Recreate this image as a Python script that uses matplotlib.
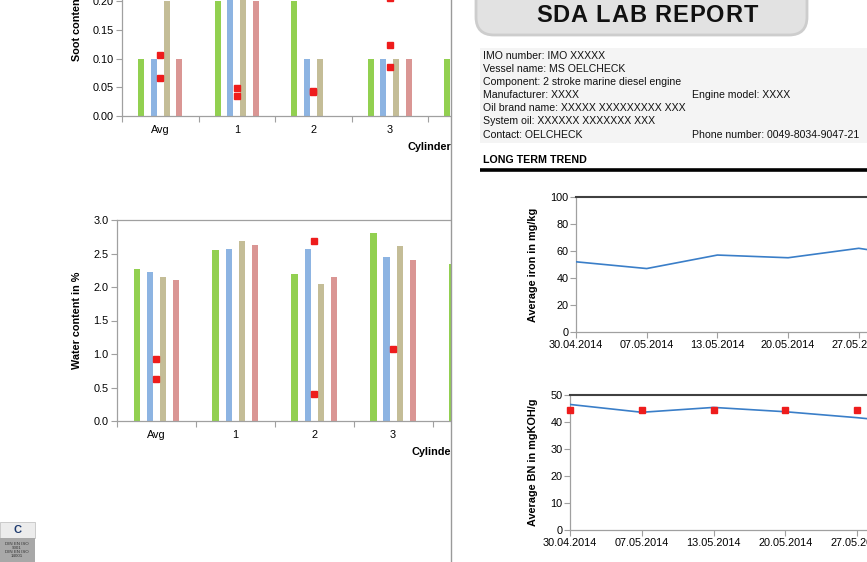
import numpy as np
import matplotlib
matplotlib.use("Agg")
import matplotlib.pyplot as plt
from matplotlib.patches import Rectangle, FancyBboxPatch
from matplotlib.font_manager import FontProperties

plt.rcParams['font.family'] = ['Liberation Sans', 'DejaVu Sans']

# ---- data ----
cylinders = ["Avg", "1", "2", "3", "4", "5", "6"]
# four samples per cylinder (green, blue, tan, pink)
soot_s1 = [0.10, 0.20, 0.20, 0.10, 0.10, np.nan, np.nan]
soot_s2 = [0.10, 0.30, 0.10, 0.10, np.nan, np.nan, np.nan]
soot_s3 = [0.20, 0.30, 0.10, 0.10, np.nan, np.nan, np.nan]
soot_s4 = [0.10, 0.20, 0.00, 0.10, np.nan, np.nan, np.nan]
soot_pts_x = [0, 0, 1, 1, 2, 2, 3, 3, 3]
soot_pts_y = [0.106, 0.066, 0.048, 0.035, 0.044, 0.042, 0.205, 0.124, 0.086]

water_s1 = [2.27, 2.55, 2.20, 2.80, 2.35, np.nan, np.nan]
water_s2 = [2.23, 2.56, 2.56, 2.45, np.nan, np.nan, np.nan]
water_s3 = [2.15, 2.68, 2.05, 2.61, np.nan, np.nan, np.nan]
water_s4 = [2.11, 2.62, 2.15, 2.40, np.nan, np.nan, np.nan]
water_pts_x = [0, 0, 2, 2, 3]
water_pts_y = [0.92, 0.62, 2.68, 0.41, 1.07]

dates = ["30.04.2014", "07.05.2014", "13.05.2014", "20.05.2014", "27.05.2014", "03.06.2014"]
iron_avg = [52, 47, 57, 55, 62, 54]
bn_avg = [46.5, 43.6, 45.4, 43.8, 41.6, 39.0]
bn_limit = [44.3, 44.3, 44.3, 44.3, 44.3, 44.3]

info_left = ["IMO number: IMO XXXXX", "Vessel name: MS OELCHECK",
             "Component: 2 stroke marine diesel engine", "Manufacturer: XXXX",
             "Oil brand name: XXXXX XXXXXXXXX XXX", "System oil: XXXXXX XXXXXXX XXX",
             "Contact: OELCHECK"]
info_right = ["", "", "", "Engine model: XXXX", "", "", "Phone number: 0049-8034-9047-21"]

title = "SDA LAB REPORT"
colors = ['#92d050', '#8db4e2', '#c4bd97', '#da9694']
W, H = 867, 562
FS = 7.8


def box(x0, y0, x1, y1):
    return [x0 / W, 1 - y1 / H, (x1 - x0) / W, (y1 - y0) / H]


fig = plt.figure(figsize=(W / 100, H / 100), dpi=100)


def cyl_chart(rect, series, px, py, ymax, ystep, fmt, ylabel, lab_x):
    ax = fig.add_axes(rect)
    n = len(cylinders)
    x = np.arange(n)
    offs = [-0.25, -0.083, 0.083, 0.25]
    for s, o, c in zip(series, offs, colors):
        ax.bar(x + o, s, width=0.08, color=c, zorder=2)
    ax.plot(px, py, 's', color='#ee1c1c', ms=4.2, zorder=3, clip_on=False)
    ax.set_xlim(-0.5, n - 0.5)
    ax.set_ylim(0, ymax)
    ax.set_yticks(np.arange(0, ymax + 1e-9, ystep))
    ax.set_yticklabels([fmt % v for v in np.arange(0, ymax + 1e-9, ystep)])
    ax.set_xticks(np.arange(-0.5, n), labels=[])
    ax.set_xticks(x, labels=cylinders, minor=True)
    ax.tick_params(axis='x', which='major', length=4, color='#a0a0a0', direction='out')
    ax.tick_params(axis='x', which='minor', length=0, pad=6.5, labelsize=FS)
    ax.tick_params(axis='y', length=4, color='#a0a0a0', labelsize=FS, pad=2)
    for sp in ax.spines.values():
        sp.set_color('#a0a0a0')
        sp.set_linewidth(0.9)
    ax.set_ylabel(ylabel, fontsize=FS, fontweight='bold')
    ax.yaxis.set_label_coords(lab_x, 0.5)
    return ax


w1 = 7 * 76.5
cyl_chart(box(122, -85, 122 + w1, 116), [soot_s1, soot_s2, soot_s3, soot_s4],
          soot_pts_x, soot_pts_y, 0.35, 0.05, "%.2f", "Soot content in %", (81.5 - 122) / w1)
fig.text(408 / W, 1 - 147 / H, "Cylinder", fontsize=FS, fontweight='bold', va='center')

w2 = 7 * 78.9
cyl_chart(box(117, 220, 117 + w2, 421), [water_s1, water_s2, water_s3, water_s4],
          water_pts_x, water_pts_y, 3.0, 0.5, "%.1f", "Water content in %", (81.5 - 117) / w2)
fig.text(411 / W, 1 - 452 / H, "Cylinder", fontsize=FS, fontweight='bold', va='center')

# ---- right panel overlay (pixel coordinates) ----
ov = fig.add_axes([0, 0, 1, 1], zorder=5)
ov.set_xlim(0, W)
ov.set_ylim(H, 0)
ov.axis('off')
ov.patch.set_alpha(0)
ov.add_patch(Rectangle((451.5, 0), W - 451.5, H, facecolor='white', edgecolor='none'))
ov.plot([451, 451], [0, H], color='#9a9a9a', lw=1)

ov.add_patch(FancyBboxPatch((476, -20), 331, 55, boxstyle="round,pad=0,rounding_size=18",
                            facecolor='#e2e2e2', edgecolor='#cdcdcd', lw=2))

# title with a little letter spacing
renderer = fig.canvas.get_renderer()
tprop = FontProperties(family='Liberation Sans', weight='bold', size=17)
track = 1.0


def tw(s):
    return renderer.get_text_width_height_descent(s, tprop, ismath=False)[0]


ref = tw("X")
full = tw(title) + track * (len(title) - 1)
x0 = 647 - full / 2
for i, ch in enumerate(title):
    xi = x0 + (tw(title[:i] + "X") - ref if i else 0) + track * i
    ov.text(xi, 16, ch, fontproperties=tprop, ha='left', va='center', color='#111111')

ov.add_patch(Rectangle((480, 48), W - 480, 95, facecolor='#f4f4f4', edgecolor='none'))
for i, (l, r) in enumerate(zip(info_left, info_right)):
    yy = 56 + i * 13.1
    ov.text(483, yy, l, fontsize=7.6, va='center', color='#111111')
    if r:
        ov.text(692, yy, r, fontsize=7.6, va='center', color='#111111')

ov.text(483, 160, "LONG TERM TREND", fontsize=7.7, fontweight='bold', va='center')
ov.plot([480, W], [170, 170], color='black', lw=2.6, solid_capstyle='butt')

# logo
ov.add_patch(Rectangle((0, 522), 35, 16, facecolor='#ececec', edgecolor='#bbbbbb', lw=0.5))
ov.add_patch(Rectangle((0, 538), 35, 24, facecolor='#a8a8a8', edgecolor='none'))
ov.text(17, 530, "C", fontsize=8, fontweight='bold', color='#1d3a6e', ha='center', va='center')
ov.text(17, 550, "DIN EN ISO\n9001\nDIN EN ISO\n14001", fontsize=3.2, color='#333333',
        ha='center', va='center', linespacing=0.95)


def trend_chart(rect, y, ymax, ystep, ylabel, lab_x, marks=None):
    ax = fig.add_axes(rect, zorder=6)
    x = np.arange(len(dates))
    ax.plot(x, y, color='#3a7ec8', lw=1.2, zorder=3)
    if marks is not None:
        ax.plot(x, marks, 's', color='#ee1c1c', ms=4.8, zorder=4, clip_on=False)
    ax.set_xlim(0, 6)
    ax.set_ylim(0, ymax)
    ax.set_yticks(np.arange(0, ymax + 1, ystep))
    ax.set_xticks(x, labels=dates)
    ax.tick_params(axis='x', length=4, color='#a0a0a0', labelsize=FS, pad=2)
    ax.tick_params(axis='y', length=4, color='#a0a0a0', labelsize=FS, pad=1.5)
    for k in ['left', 'bottom', 'right']:
        ax.spines[k].set_color('#a0a0a0')
        ax.spines[k].set_linewidth(0.9)
    ax.spines['top'].set_color('#404040')
    ax.spines['top'].set_linewidth(1.5)
    ax.set_ylabel(ylabel, fontsize=FS, fontweight='bold')
    ax.yaxis.set_label_coords(lab_x, 0.5)
    return ax


wi = 6 * 70.7
trend_chart(box(576, 197, 576 + wi, 332), iron_avg, 100, 20, "Average iron in mg/kg",
            (538.5 - 576) / wi)
wb = 6 * 71.8
trend_chart(box(570, 395, 570 + wb, 530), bn_avg, 50, 10, "Average BN in mgKOH/g",
            (538.5 - 570) / wb, marks=bn_limit)

fig.savefig("out.png", dpi=100)
